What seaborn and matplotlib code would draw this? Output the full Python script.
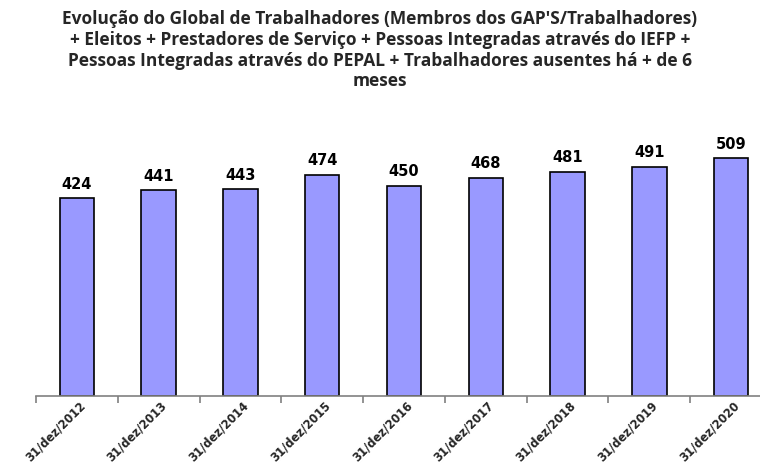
import matplotlib
matplotlib.use("Agg")
import matplotlib.pyplot as plt
import seaborn as sns
import pandas as pd

categories = ["31/dez/2012", "31/dez/2013", "31/dez/2014", "31/dez/2015", "31/dez/2016",
              "31/dez/2017", "31/dez/2018", "31/dez/2019", "31/dez/2020"]
values = [424, 441, 443, 474, 450, 468, 481, 491, 509]
title = ("Evolução do Global de Trabalhadores (Membros dos GAP'S/Trabalhadores)\n"
         "+ Eleitos + Prestadores de Serviço + Pessoas Integradas através do IEFP +\n"
         "Pessoas Integradas através do PEPAL + Trabalhadores ausentes há + de 6\n"
         "meses")

sns.set_theme(style="white")
df = pd.DataFrame({"cat": categories, "val": values})

fig = plt.figure(figsize=(7.6, 4.63), dpi=100)
ax = fig.add_axes([36/760, 67/463, 736/760, 280/463])
sns.barplot(data=df, x="cat", y="val", ax=ax, color="#9999ff", saturation=1,
            width=0.42, edgecolor="black", linewidth=1.2)
ax.set_ylim(0, 600)
ax.set_xlim(-0.5, len(categories) - 0.5)
ax.set_xlabel("")
ax.set_ylabel("")
ax.set_yticks([])
for s in ["top", "right", "left"]:
    ax.spines[s].set_visible(False)
ax.spines["bottom"].set_color("#808080")
ax.spines["bottom"].set_linewidth(1.2)

for i, v in enumerate(values):
    ax.text(i, v + 14, str(v), ha="center", va="bottom", fontsize=10.5,
            fontweight="bold", family="DejaVu Sans", color="black")

ax.set_xticks([i + 0.02 for i in range(len(categories))])
ax.set_xticklabels(categories, rotation=45, ha="right", rotation_mode="anchor",
                   fontsize=8.3, fontweight="bold", family="DejaVu Sans")
ax.tick_params(axis="x", which="major", length=0, pad=2)
ax.set_xticks([i - 0.5 for i in range(len(categories) + 1)], minor=True)
ax.tick_params(axis="x", which="minor", length=5, width=1.2, color="#808080", direction="out", bottom=True)

fig.text(0.5, 1 - 10/463, title, ha="center", va="top", fontsize=12.5,
         fontweight="bold", family="Open Sans", linespacing=1.2)

fig.savefig("out.png", dpi=100)
